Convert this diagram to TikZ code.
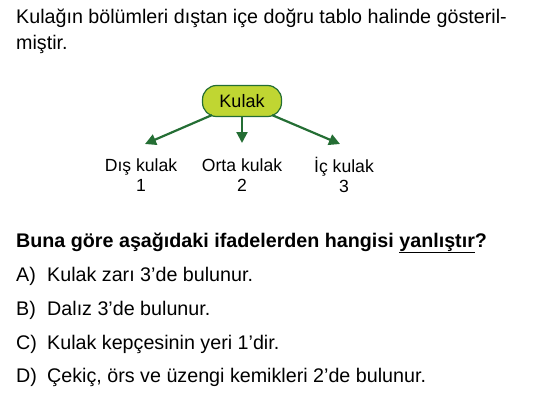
\documentclass[tikz,border=0pt]{standalone}
\usepackage{fontspec}
\setmainfont{Liberation Sans}
\usetikzlibrary{positioning,arrows.meta}
\definecolor{kulakyesil}{RGB}{192,214,50}
\definecolor{okyesil}{RGB}{36,110,52}
\tikzset{
    metin/.style={anchor=base west, inner sep=0pt, font=\fontsize{19.7}{23}\selectfont},
    bolum/.style={align=center, inner sep=0pt, font=\fontsize{17.6}{20}\selectfont},
    kok/.style={draw=okyesil, line width=1.2pt, fill=kulakyesil, rounded corners=14pt, minimum width=79pt, minimum height=31pt, font=\fontsize{18}{20}\selectfont},
    ok/.style={-{Triangle[length=11pt,width=11pt]}, okyesil, line width=2.2pt}
}
\begin{document}
\begin{tikzpicture}[x=1pt, y=-1pt]
        \useasboundingbox (0, 0) rectangle (537, 417);
        \node[metin] (soru1) at (16, 24) {Kulağın bölümleri dıştan içe doğru tablo halinde gösteril-};
        \node[metin] (soru2) at (16, 50) {miştir.};
        \node[kok] (kulak) at (242, 101) {Kulak};
        \node[bolum] (dis) at (141, 175) {Dış kulak\\1};
        \node[bolum] (orta) at (242, 175) {Orta kulak\\2};
        \node[bolum] (ic) at (344, 175) {İç kulak\\3};
        \draw[ok] (kulak.south west) ++(10, -2) -- (145, 144);
        \draw[ok] (kulak.south) -- (242, 143);
        \draw[ok] (kulak.south east) ++(-10, -2) -- (340, 144);
        \node[metin, font=\fontsize{19.7}{23}\selectfont\bfseries] (soru) at (16, 247) {Buna göre aşağıdaki ifadelerden hangisi \underline{yanlıştır}?};
        \foreach \harf/\secenek [count=\i] in {A/{Kulak zarı 3’de bulunur.}, B/{Dalız 3’de bulunur.}, C/{Kulak kepçesinin yeri 1’dir.}, D/{Çekiç, örs ve üzengi kemikleri 2’de bulunur.}} {
            \node[metin] (harf\i) at (16, {248 + 33.7*\i}) {\harf)};
            \node[metin] (secenek\i) at (47, {248 + 33.7*\i}) {\secenek};
        }
    \end{tikzpicture}
\end{document}
